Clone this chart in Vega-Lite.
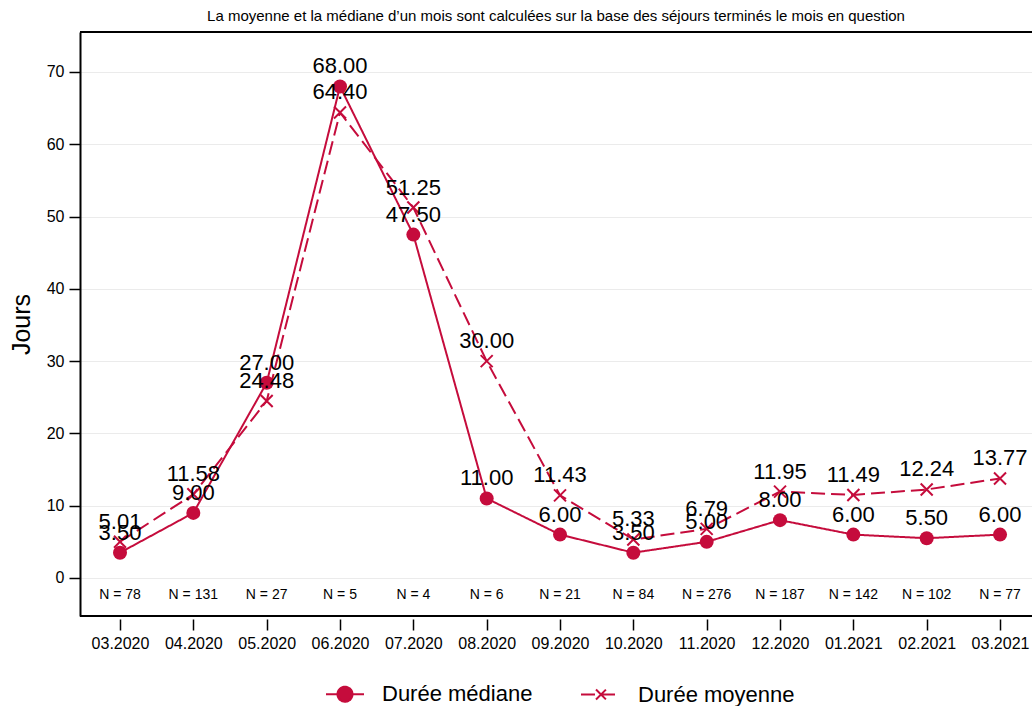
{
  "$schema": "https://vega.github.io/schema/vega-lite/v6.json",
  "width": 952,
  "height": 584,
  "autosize": {"type": "none"},
  "padding": {"left": 80, "top": 32, "right": 0, "bottom": 90},
  "background": "white",
  "config": {
    "font": "Liberation Sans",
    "view": {"stroke": null},
    "axisX": {"labelAngle": 0, "domain": false, "offset": 3, "ticks": true, "tickSize": 11, "tickWidth": 1.5, "tickColor": "black", "labelFontSize": 16, "labelColor": "black", "labelPadding": 5, "grid": false, "labelFlush": false, "labelOverlap": false},
    "axisY": {"titleFontSize": 25, "titleFontWeight": "normal", "titleColor": "black", "titlePadding": 12, "domain": true, "domainColor": "black", "domainWidth": 2, "tickColor": "black", "tickSize": 11, "tickWidth": 1.5, "labelFontSize": 16, "labelColor": "black", "labelPadding": 5, "grid": true, "gridColor": "#ebebeb", "gridWidth": 1}
  },
  "title": {"text": "La moyenne et la médiane d’un mois sont calculées sur la base des séjours terminés le mois en question", "fontSize": 15, "fontWeight": "normal", "anchor": "middle", "offset": 7, "color": "black"},
  "datasets": {
    "vals": [
      {"i": 0, "month": "03.2020", "series": "Durée médiane", "value": 3.5},
      {"i": 1, "month": "04.2020", "series": "Durée médiane", "value": 9.0},
      {"i": 2, "month": "05.2020", "series": "Durée médiane", "value": 27.0},
      {"i": 3, "month": "06.2020", "series": "Durée médiane", "value": 68.0},
      {"i": 4, "month": "07.2020", "series": "Durée médiane", "value": 47.5},
      {"i": 5, "month": "08.2020", "series": "Durée médiane", "value": 11.0},
      {"i": 6, "month": "09.2020", "series": "Durée médiane", "value": 6.0},
      {"i": 7, "month": "10.2020", "series": "Durée médiane", "value": 3.5},
      {"i": 8, "month": "11.2020", "series": "Durée médiane", "value": 5.0},
      {"i": 9, "month": "12.2020", "series": "Durée médiane", "value": 8.0},
      {"i": 10, "month": "01.2021", "series": "Durée médiane", "value": 6.0},
      {"i": 11, "month": "02.2021", "series": "Durée médiane", "value": 5.5},
      {"i": 12, "month": "03.2021", "series": "Durée médiane", "value": 6.0},
      {"i": 0, "month": "03.2020", "series": "Durée moyenne", "value": 5.01},
      {"i": 1, "month": "04.2020", "series": "Durée moyenne", "value": 11.58},
      {"i": 2, "month": "05.2020", "series": "Durée moyenne", "value": 24.48},
      {"i": 3, "month": "06.2020", "series": "Durée moyenne", "value": 64.40},
      {"i": 4, "month": "07.2020", "series": "Durée moyenne", "value": 51.25},
      {"i": 5, "month": "08.2020", "series": "Durée moyenne", "value": 30.0},
      {"i": 6, "month": "09.2020", "series": "Durée moyenne", "value": 11.43},
      {"i": 7, "month": "10.2020", "series": "Durée moyenne", "value": 5.33},
      {"i": 8, "month": "11.2020", "series": "Durée moyenne", "value": 6.79},
      {"i": 9, "month": "12.2020", "series": "Durée moyenne", "value": 11.95},
      {"i": 10, "month": "01.2021", "series": "Durée moyenne", "value": 11.49},
      {"i": 11, "month": "02.2021", "series": "Durée moyenne", "value": 12.24},
      {"i": 12, "month": "03.2021", "series": "Durée moyenne", "value": 13.77}
    ],
    "ns": [
      {"i": 0, "month": "03.2020", "nlabel": "N = 78"},
      {"i": 1, "month": "04.2020", "nlabel": "N = 131"},
      {"i": 2, "month": "05.2020", "nlabel": "N = 27"},
      {"i": 3, "month": "06.2020", "nlabel": "N = 5"},
      {"i": 4, "month": "07.2020", "nlabel": "N = 4"},
      {"i": 5, "month": "08.2020", "nlabel": "N = 6"},
      {"i": 6, "month": "09.2020", "nlabel": "N = 21"},
      {"i": 7, "month": "10.2020", "nlabel": "N = 84"},
      {"i": 8, "month": "11.2020", "nlabel": "N = 276"},
      {"i": 9, "month": "12.2020", "nlabel": "N = 187"},
      {"i": 10, "month": "01.2021", "nlabel": "N = 142"},
      {"i": 11, "month": "02.2021", "nlabel": "N = 102"},
      {"i": 12, "month": "03.2021", "nlabel": "N = 77"}
    ],
    "frame": [{"edge": "top"}]
  },
  "layer": [
    {
      "data": {"name": "vals"},
      "mark": {"type": "line", "strokeWidth": 2},
      "encoding": {
        "x": {"field": "i", "type": "quantitative", "title": null,
          "scale": {"domain": [-0.5455, 12.436], "nice": false, "zero": false},
          "axis": {"values": [0,1,2,3,4,5,6,7,8,9,10,11,12], "labelExpr": "['03.2020','04.2020','05.2020','06.2020','07.2020','08.2020','09.2020','10.2020','11.2020','12.2020','01.2021','02.2021','03.2021'][datum.value]"}},
        "y": {"field": "value", "type": "quantitative", "title": "Jours",
          "scale": {"domain": [-5.26, 75.53], "nice": false, "zero": false},
          "axis": {"values": [0,10,20,30,40,50,60,70]}},
        "color": {"field": "series", "type": "nominal",
          "scale": {"domain": ["Durée médiane", "Durée moyenne"], "range": ["#c50c3c", "#c50c3c"]},
          "legend": {"orient": "none", "legendX": 244, "legendY": 641, "direction": "horizontal", "title": null, "labelFontSize": 22, "labelColor": "black", "symbolSize": 1600, "symbolStrokeWidth": 2, "labelOffset": 16, "columnPadding": 44,
            "encode": {"symbols": {"update": {
              "shape": {"signal": "datum.value === 'Durée médiane' ? 'M-0.95,0L0.95,0M0.375,0A0.375,0.375 0 1,1 -0.375,0A0.375,0.375 0 1,1 0.375,0Z' : 'M-1,0L1,0M-0.25,-0.25L0.25,0.25M-0.25,0.25L0.25,-0.25'"},
              "fill": {"value": "#c50c3c"},
              "stroke": {"value": "#c50c3c"},
              "strokeWidth": {"value": 2},
              "strokeDash": {"value": [1, 0]}
            }}}}},
        "strokeDash": {"field": "series", "type": "nominal",
          "scale": {"domain": ["Durée médiane", "Durée moyenne"], "range": [[1, 0], [14, 6]]},
          "legend": null}
      }
    },
    {
      "data": {"name": "vals"},
      "transform": [{"filter": "datum.series === 'Durée médiane'"}],
      "mark": {"type": "point", "shape": "circle", "filled": true, "size": 196, "color": "#c50c3c", "opacity": 1},
      "encoding": {
        "x": {"field": "i", "type": "quantitative", "title": null, "axis": {"values": [0,1,2,3,4,5,6,7,8,9,10,11,12], "labelExpr": "['03.2020','04.2020','05.2020','06.2020','07.2020','08.2020','09.2020','10.2020','11.2020','12.2020','01.2021','02.2021','03.2021'][datum.value]"}},
        "y": {"field": "value", "type": "quantitative", "title": "Jours", "axis": {"values": [0,10,20,30,40,50,60,70]}}
      }
    },
    {
      "data": {"name": "vals"},
      "transform": [{"filter": "datum.series === 'Durée moyenne'"}],
      "mark": {"type": "point", "shape": "M-1,-1L1,1M-1,1L1,-1", "filled": false, "size": 144, "stroke": "#c50c3c", "strokeWidth": 2, "opacity": 1},
      "encoding": {
        "x": {"field": "i", "type": "quantitative", "title": null, "axis": {"values": [0,1,2,3,4,5,6,7,8,9,10,11,12], "labelExpr": "['03.2020','04.2020','05.2020','06.2020','07.2020','08.2020','09.2020','10.2020','11.2020','12.2020','01.2021','02.2021','03.2021'][datum.value]"}},
        "y": {"field": "value", "type": "quantitative", "title": "Jours", "axis": {"values": [0,10,20,30,40,50,60,70]}}
      }
    },
    {
      "data": {"name": "vals"},
      "mark": {"type": "text", "dy": -20, "fontSize": 22, "color": "black", "baseline": "middle"},
      "encoding": {
        "x": {"field": "i", "type": "quantitative", "title": null, "axis": {"values": [0,1,2,3,4,5,6,7,8,9,10,11,12], "labelExpr": "['03.2020','04.2020','05.2020','06.2020','07.2020','08.2020','09.2020','10.2020','11.2020','12.2020','01.2021','02.2021','03.2021'][datum.value]"}},
        "y": {"field": "value", "type": "quantitative", "title": "Jours", "axis": {"values": [0,10,20,30,40,50,60,70]}},
        "text": {"field": "value", "type": "quantitative", "format": ".2f"}
      }
    },
    {
      "data": {"name": "ns"},
      "mark": {"type": "text", "fontSize": 14, "color": "black", "baseline": "middle"},
      "encoding": {
        "x": {"field": "i", "type": "quantitative", "title": null, "axis": {"values": [0,1,2,3,4,5,6,7,8,9,10,11,12], "labelExpr": "['03.2020','04.2020','05.2020','06.2020','07.2020','08.2020','09.2020','10.2020','11.2020','12.2020','01.2021','02.2021','03.2021'][datum.value]"}},
        "y": {"datum": -2.3, "title": "Jours", "axis": {"values": [0,10,20,30,40,50,60,70]}},
        "text": {"field": "nlabel", "type": "nominal"}
      }
    },
    {
      "data": {"name": "frame"},
      "mark": {"type": "rule", "color": "black", "strokeWidth": 2},
      "encoding": {"y": {"datum": 75.53, "title": "Jours", "axis": {"values": [0,10,20,30,40,50,60,70]}}}
    },
    {
      "data": {"name": "frame"},
      "mark": {"type": "rule", "color": "black", "strokeWidth": 2},
      "encoding": {"y": {"datum": -5.26, "title": "Jours", "axis": {"values": [0,10,20,30,40,50,60,70]}}}
    }
  ]
}
